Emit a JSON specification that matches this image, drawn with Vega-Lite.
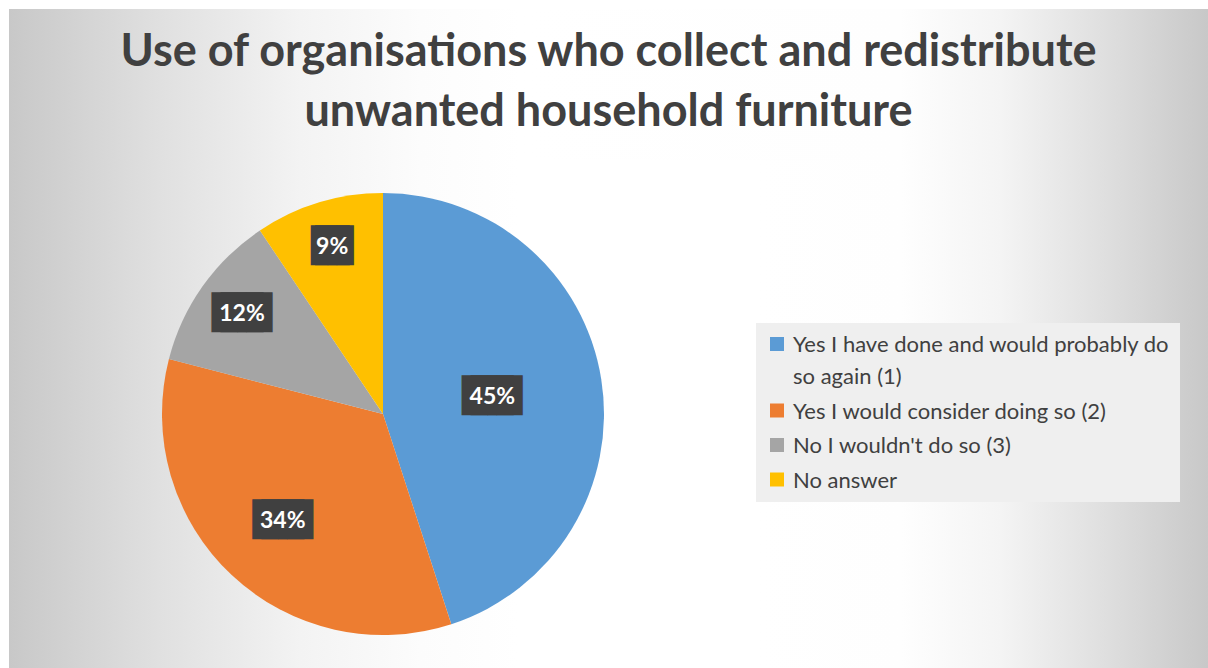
{
  "$schema": "https://vega.github.io/schema/vega-lite/v6.json",
  "padding": {"left": 9, "top": 9, "right": 0, "bottom": 0},
  "background": "#ffffff",
  "config": {"view": {"stroke": null}},
  "title": {
    "text": ["Use of organisations who collect and redistribute", "unwanted household furniture"],
    "font": "Lato",
    "fontSize": 45,
    "fontWeight": "bold",
    "color": "#404040",
    "lineHeight": 60,
    "anchor": "middle",
    "offset": -126,
    "zindex": 1
  },
  "datasets": {
    "answers": [
      {"answer": "Yes I have done and would probably do so again (1)", "share": 0.45, "rank": 1},
      {"answer": "Yes I would consider doing so (2)", "share": 0.34, "rank": 2},
      {"answer": "No I wouldn't do so (3)", "share": 0.116, "rank": 3},
      {"answer": "No answer", "share": 0.094, "rank": 4}
    ]
  },
  "data": {"name": "answers"},
  "bounds": "flush",
  "spacing": 0,
  "vconcat": [
    {
      "width": 1199,
      "height": 151,
      "mark": {
        "type": "rect",
        "fill": {
          "gradient": "linear", "x1": 0, "y1": 0, "x2": 1, "y2": 0,
          "stops": [
            {"offset": 0, "color": "#c8c8c8"},
            {"offset": 0.126, "color": "#e0e0e0"},
            {"offset": 0.243, "color": "#f3f3f3"},
            {"offset": 0.343, "color": "#fcfcfc"},
            {"offset": 0.426, "color": "#ffffff"},
            {"offset": 0.743, "color": "#fefefe"},
            {"offset": 0.827, "color": "#f4f4f4"},
            {"offset": 0.91, "color": "#e0e0e0"},
            {"offset": 1, "color": "#c8c8c8"}
          ]
        }
      }
    },
    {
      "bounds": "flush",
      "spacing": 0,
      "hconcat": [
        {
          "width": 748,
          "height": 508,
          "layer": [
            {
              "mark": {
                "type": "rect",
                "fill": {
                  "gradient": "linear", "x1": 0, "y1": 0, "x2": 1, "y2": 0,
                  "stops": [
                    {"offset": 0, "color": "#c8c8c8"},
                    {"offset": 0.2, "color": "#e0e0e0"},
                    {"offset": 0.39, "color": "#f3f3f3"},
                    {"offset": 0.55, "color": "#fcfcfc"},
                    {"offset": 0.68, "color": "#ffffff"},
                    {"offset": 1, "color": "#ffffff"}
                  ]
                }
              }
            },
            {
              "mark": {"type": "arc", "outerRadius": 221},
              "encoding": {
                "theta": {"field": "share", "type": "quantitative", "stack": true},
                "order": {"field": "rank", "type": "quantitative"},
                "color": {
                  "field": "answer",
                  "type": "nominal",
                  "scale": {
                    "domain": [
                      "Yes I have done and would probably do so again (1)",
                      "Yes I would consider doing so (2)",
                      "No I wouldn't do so (3)",
                      "No answer"
                    ],
                    "range": ["#5b9bd5", "#ed7d31", "#a5a5a5", "#ffc000"]
                  },
                  "legend": {
                    "orient": "none",
                    "legendX": 747,
                    "legendY": 314,
                    "title": null,
                    "zindex": 1,
                    "padding": 10,
                    "fillColor": "#efefef",
                    "symbolType": "square",
                    "symbolSize": 196,
                    "symbolStrokeWidth": 0,
                    "labelFont": "Lato",
                    "labelFontSize": 22,
                    "labelColor": "#404040",
                    "labelLimit": 600,
                    "labelOffset": 5,
                    "labelBaseline": "alphabetic",
                    "rowPadding": 11.5,
                    "labelExpr": "datum.label == 'Yes I have done and would probably do so again (1)' ? ['Yes I have done and would probably do', 'so again (1)'] : datum.label",
                    "encode": {
                      "labels": {
                        "update": {"dy": {"value": 8}, "lineHeight": {"value": 32}}
                      }
                    }
                  }
                }
              }
            },
            {
              "mark": {"type": "text", "font": "DejaVu Sans", "fontSize": 33.5, "color": "#404040", "baseline": "middle", "dx": -4.5},
              "encoding": {
                "theta": {"field": "share", "type": "quantitative", "stack": true},
                "order": {"field": "rank", "type": "quantitative"},
                "radius": {
                  "field": "share",
                  "type": "quantitative",
                  "scale": {"type": "linear", "zero": false, "nice": false, "domain": [0.094, 0.116, 0.34, 0.45], "range": [174.5, 172.7, 146.5, 110.7]}
                },
                "text": {"condition": {"test": "datum.share < 0.1", "value": "▐█"}, "value": "██"}
              }
            },
            {
              "mark": {"type": "text", "font": "DejaVu Sans", "fontSize": 33.5, "color": "#404040", "baseline": "middle", "dx": 4.5},
              "encoding": {
                "theta": {"field": "share", "type": "quantitative", "stack": true},
                "order": {"field": "rank", "type": "quantitative"},
                "radius": {"field": "share", "type": "quantitative"},
                "text": {"condition": {"test": "datum.share < 0.1", "value": "█▌"}, "value": "██"}
              }
            },
            {
              "mark": {"type": "text", "font": "Lato", "fontSize": 23, "fontWeight": "bold", "color": "#ffffff", "baseline": "middle"},
              "encoding": {
                "theta": {"field": "share", "type": "quantitative", "stack": true},
                "order": {"field": "rank", "type": "quantitative"},
                "radius": {"field": "share", "type": "quantitative"},
                "text": {"field": "share", "type": "quantitative", "format": ".0%"}
              }
            }
          ]
        },
        {
          "width": 451,
          "height": 508,
          "mark": {
            "type": "rect",
            "fill": {
              "gradient": "linear", "x1": 0, "y1": 0, "x2": 1, "y2": 0,
              "stops": [
                {"offset": 0, "color": "#ffffff"},
                {"offset": 0.32, "color": "#fefefe"},
                {"offset": 0.54, "color": "#f4f4f4"},
                {"offset": 0.76, "color": "#e0e0e0"},
                {"offset": 1, "color": "#c8c8c8"}
              ]
            }
          }
        }
      ]
    }
  ]
}
